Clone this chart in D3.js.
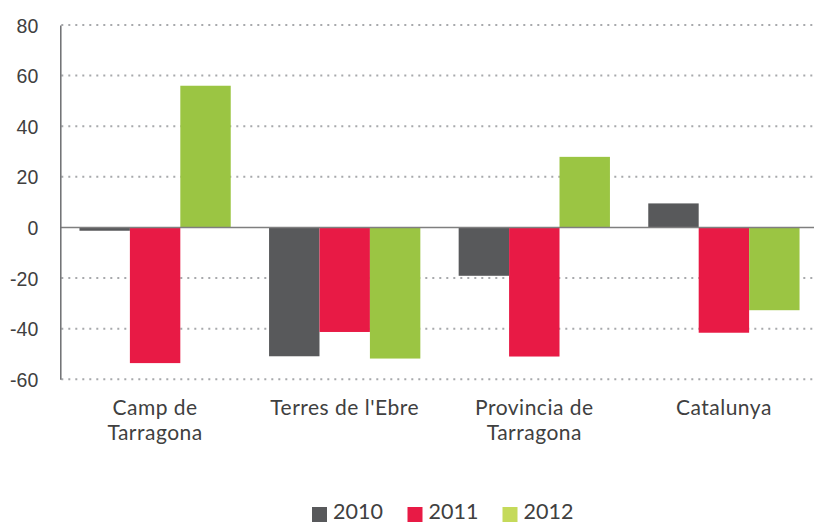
<!DOCTYPE html>
<html lang="ca">
<head>
<meta charset="UTF-8">
<title>Variació per territori</title>
<script src="https://d3js.org/d3.v7.min.js"></script>
<style>
    body { margin: 0; background: #fff; font-family: Lato, "Open Sans", sans-serif; }
    .tick text { fill: #404040; }
</style>
</head>
<body>
<script>
    // Data
    const categories = [["Camp de", "Tarragona"], ["Terres de l'Ebre"], ["Provincia de", "Tarragona"], ["Catalunya"]];
    const series = ["2010", "2011", "2012"];
    const values2010 = [-1.3, -50.9, -19.1, 9.5];
    const values2011 = [-53.6, -41.3, -51.0, -41.6];
    const values2012 = [56.0, -51.8, 27.9, -32.7];
    const yTicks = [80, 60, 40, 20, 0, -20, -40, -60];

    const barColors = ["#58595b", "#e81a45", "#9bc543"];
    const legendColors = ["#58595b", "#e81a45", "#c5da5a"];

    const W = 814, H = 523;
    const margin = {top: 25, left: 60.3};
    const bandWidth = 758.4;            // the category bands run past the right edge
    const lineWidth = W - margin.left;  // grid and zero line stop at the edge
    const height = 379.3 - margin.top;

    const svg = d3.select("body").append("svg")
        .attr("width", W).attr("height", H);
    const g = svg.append("g").attr("transform", `translate(${margin.left},${margin.top})`);

    const x0 = d3.scaleBand().domain(d3.range(categories.length)).range([0, bandWidth]).padding(0);
    const x1 = d3.scaleBand().domain(series).range([0, x0.bandwidth()]).paddingInner(0).paddingOuter(0.38);
    const y = d3.scaleLinear().domain([-60, 80]).range([height, 0]);

    // dotted grid lines
    g.append("g").selectAll("line")
        .data(yTicks.filter(d => d !== 0))
        .join("line")
        .attr("x1", 1).attr("x2", lineWidth)
        .attr("y1", d => y(d)).attr("y2", d => y(d))
        .attr("stroke", "#a7a9ac")
        .attr("stroke-width", 2)
        .attr("stroke-dasharray", "2,5");

    // bars
    const allValues = [values2010, values2011, values2012];
    const rows = categories.map((c, i) => series.map((s, j) => ({cat: i, s, j, v: allValues[j][i]})));
    g.append("g").selectAll("g")
        .data(rows)
        .join("g")
        .attr("transform", (d, i) => `translate(${x0(i)},0)`)
        .selectAll("rect")
        .data(d => d)
        .join("rect")
        .attr("x", d => x1(d.s))
        .attr("width", x1.bandwidth())
        .attr("y", d => y(Math.max(0, d.v)))
        .attr("height", d => Math.abs(y(d.v) - y(0)))
        .attr("fill", d => barColors[d.j]);

    // zero line
    g.append("line")
        .attr("x1", 0).attr("x2", lineWidth)
        .attr("y1", y(0)).attr("y2", y(0))
        .attr("stroke", "#7f7f7f").attr("stroke-width", 1.5);

    // y axis
    const yAxis = g.append("g")
        .call(d3.axisLeft(y).tickValues(yTicks).tickSize(0).tickPadding(22).tickFormat(d => String(d)));
    yAxis.select(".domain").attr("stroke", "#6d6e71").attr("stroke-width", 1.5);
    yAxis.selectAll("text").style("font-size", "19.5px").attr("dy", "0.36em");

    // category labels
    const labels = g.append("g").selectAll("text")
        .data(categories)
        .join("text")
        .attr("x", (d, i) => x0(i) + x0.bandwidth() / 2)
        .attr("y", 415 - margin.top)
        .attr("text-anchor", "middle")
        .attr("fill", "#404040")
        .style("font-size", "21px")
        .style("letter-spacing", "0.5px");
    labels.selectAll("tspan")
        .data(d => d)
        .join("tspan")
        .attr("x", function() { return this.parentNode.getAttribute("x"); })
        .attr("dy", (d, i) => i === 0 ? 0 : 25)
        .text(d => d);

    // legend
    const legendX = [312, 407.5, 502.5];
    const legend = svg.append("g").selectAll("g")
        .data(series)
        .join("g")
        .attr("transform", (d, i) => `translate(${legendX[i]},507)`);
    legend.append("rect")
        .attr("width", 15).attr("height", 15)
        .attr("fill", (d, i) => legendColors[i]);
    legend.append("text")
        .attr("x", 21).attr("y", 11.5)
        .attr("fill", "#404040")
        .style("font-size", "21.5px")
        .text(d => d);
</script>
</body>
</html>
